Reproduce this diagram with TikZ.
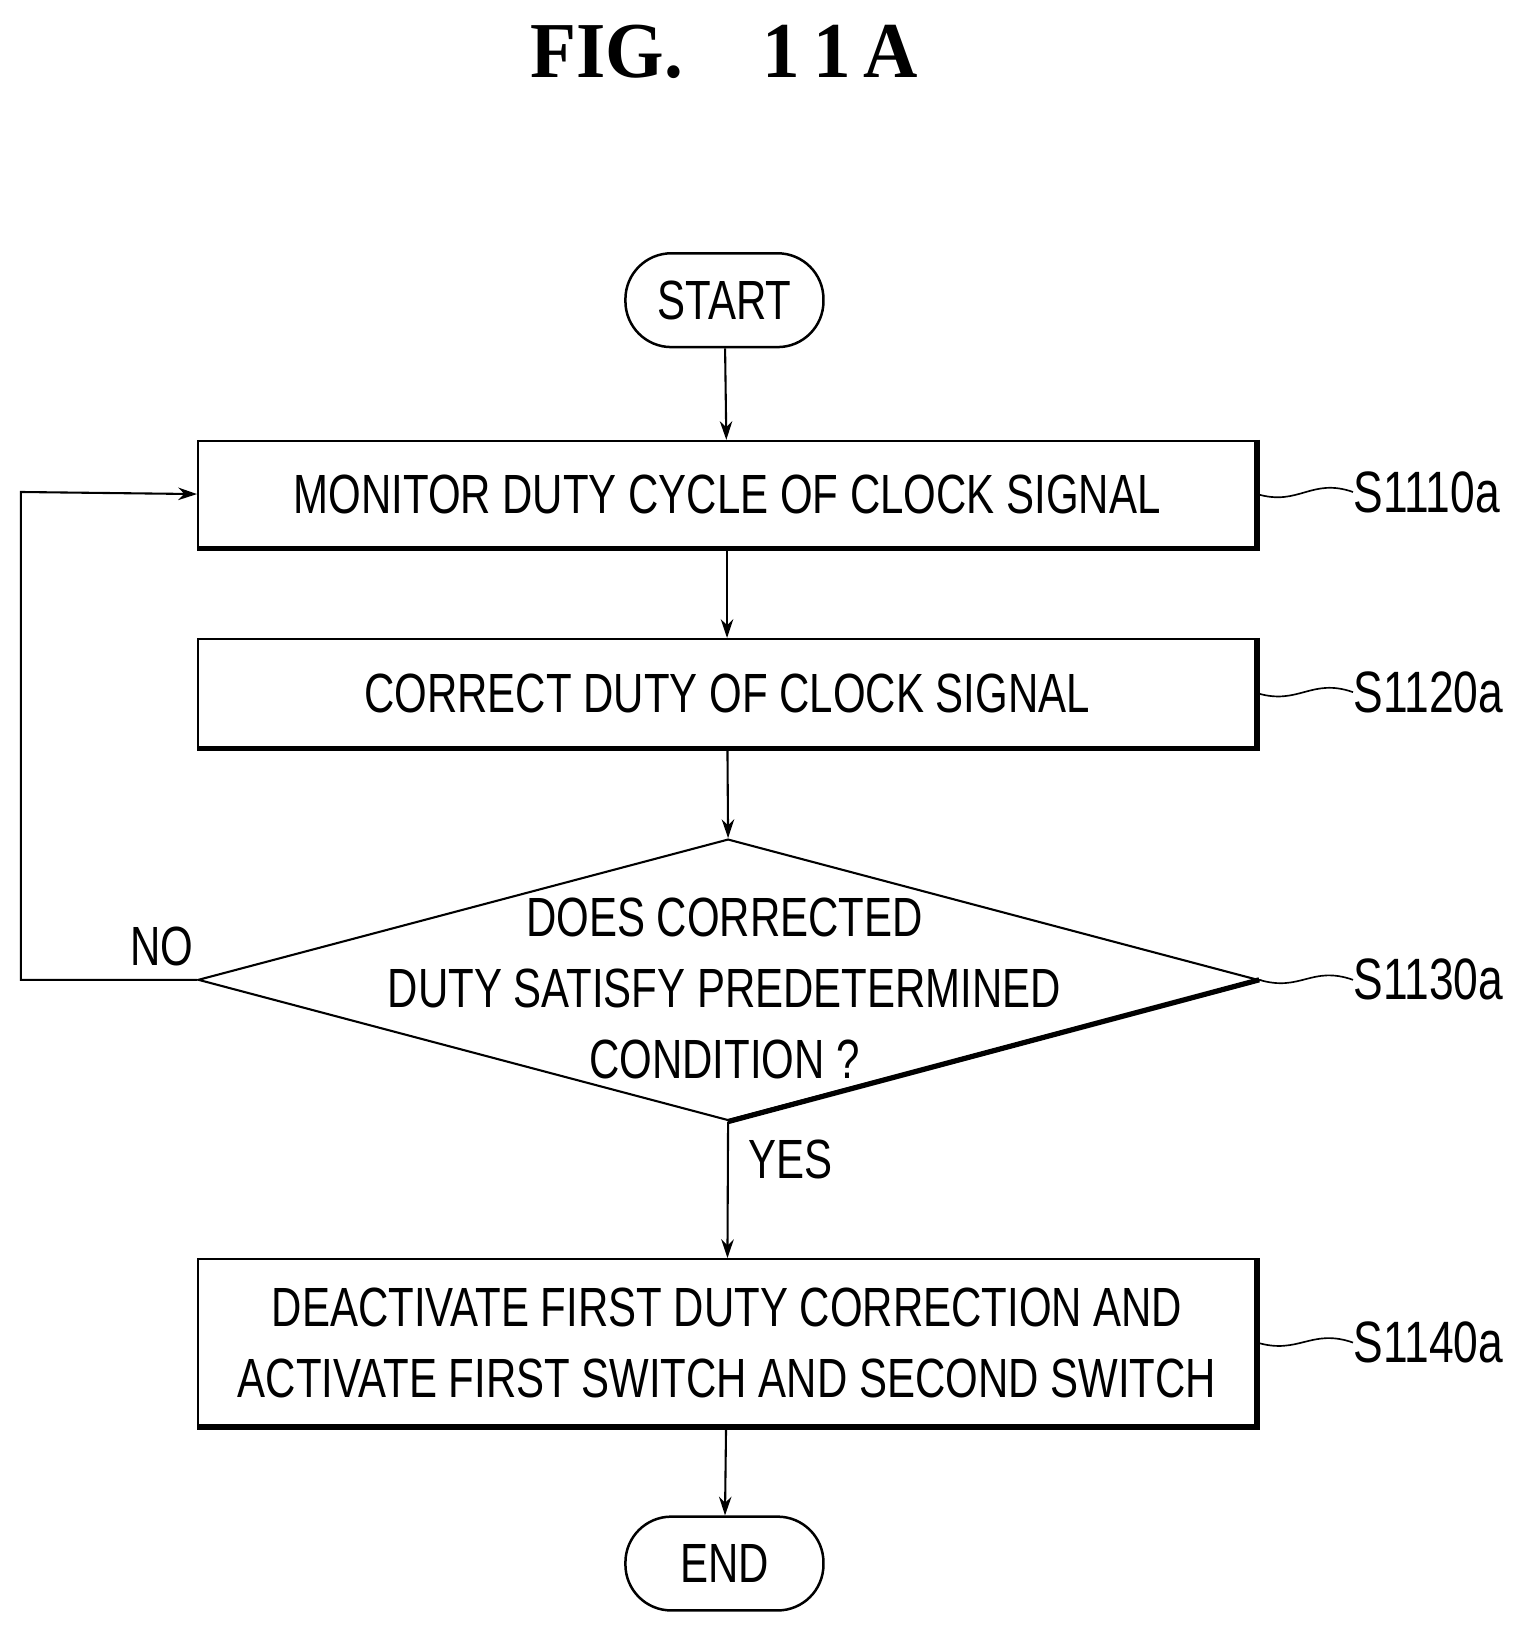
\documentclass[tikz,border=0pt]{standalone}
\usepackage{fontspec}
\setmainfont{Liberation Sans}[FakeStretch=0.76]
\newfontfamily\titlefont{Liberation Serif}[FakeStretch=0.95]
\usetikzlibrary{shapes.geometric,arrows.meta}
\begin{document}
\begin{tikzpicture}[x=0.5pt,y=-0.5pt,
  every node/.style={font=\fontsize{26.5}{34}\selectfont},
  box/.style={draw,line width=1pt,minimum width=507.5pt,inner sep=0pt,align=center},
  term/.style={draw,line width=1.2pt,rounded corners=22pt,minimum width=95pt,minimum height=45pt,inner sep=0pt},
  arr/.style={line width=1pt,-{Stealth[length=9pt,width=6pt]}},
  lbl/.style={anchor=west,inner sep=0pt},
  shad/.style={line width=2.5pt}]
\useasboundingbox (0,0) rectangle (1470,1582);
\node[font=\titlefont\bfseries\fontsize{38}{40}\selectfont] (title) at (695,50) {FIG.\quad 1\,1\,A};
\node[term] (start) at (695,288) {START};
\node[box,minimum height=51pt] (b1) at (697.5,474) {MONITOR DUTY CYCLE OF CLOCK SIGNAL};
\node[box,minimum height=52pt] (b2) at (697.5,665) {CORRECT DUTY OF CLOCK SIGNAL};
\node[draw,diamond,line width=1pt,minimum width=508.5pt,minimum height=135pt,aspect=3.77,inner sep=0pt] (d) at (698.5,940) {};
\node[align=center] (q) at (695,948) {DOES CORRECTED\\DUTY SATISFY PREDETERMINED\\CONDITION ?};
\node[box,minimum height=80pt] (b4) at (697.5,1288) {DEACTIVATE FIRST DUTY CORRECTION AND\\ACTIVATE FIRST SWITCH AND SECOND SWITCH};
\node[term] (end) at (695,1500) {END};
\draw[shad] (b1.north east)--(b1.south east)--(b1.south west);
\draw[shad] (b2.north east)--(b2.south east)--(b2.south west);
\draw[shad] (b4.north east)--(b4.south east)--(b4.south west);
\draw[shad] (d.east)--(d.south);
\draw[arr] (start)--(b1);
\draw[arr] (b1)--(b2);
\draw[arr] (b2)--(d.north);
\draw[arr] (d.south)--(b4) node[pos=0.28,right=6pt] (yes) {YES};
\draw[arr] (b4)--(end);
\coordinate (c1) at (20,940);
\coordinate (c2) at (20,472);
\draw[arr] (d.west)--(c1)--(c2)--(b1.west);
\node (no) at (155,908) {NO};
\node[lbl,font=\fontsize{28}{34}\selectfont] (l1) at (1298,472) {S1110a};
\node[lbl,font=\fontsize{28}{34}\selectfont] (l2) at (1298,664) {S1120a};
\node[lbl,font=\fontsize{28}{34}\selectfont] (l3) at (1298,940) {S1130a};
\node[lbl,font=\fontsize{28}{34}\selectfont] (l4) at (1298,1288) {S1140a};
\foreach \b/\l in {b1/l1,b2/l2,d/l3,b4/l4}
  \draw[line width=0.8pt] (\b.east) .. controls +(40,12) and +(-40,-14) .. (\l.west);
\end{tikzpicture}
\end{document}
